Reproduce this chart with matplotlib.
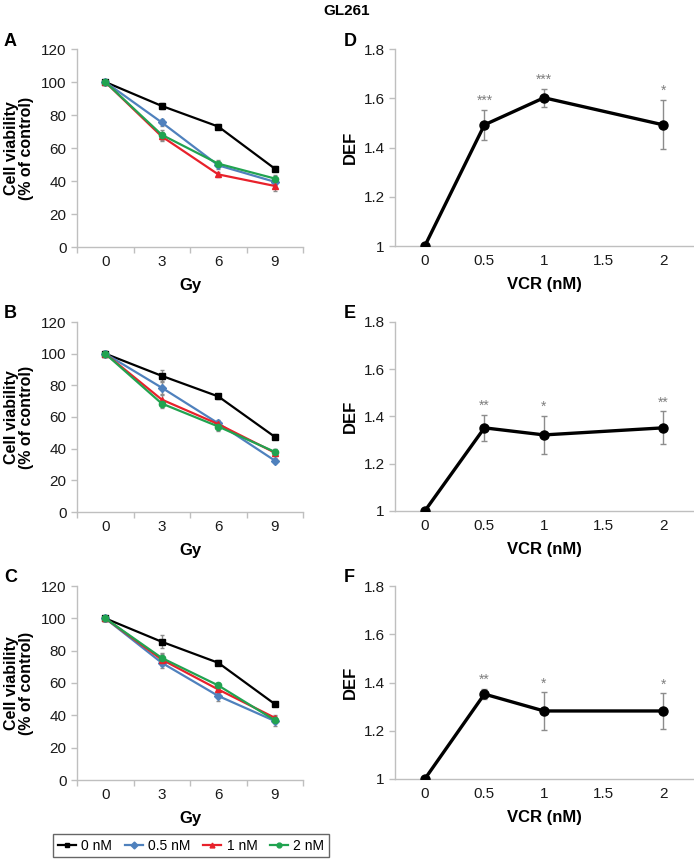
import matplotlib
matplotlib.use("Agg")
import matplotlib.pyplot as plt
from matplotlib.lines import Line2D

plt.rcParams['font.family'] = ['Liberation Sans', 'DejaVu Sans']

doses_gy = [0, 3, 6, 9]
series_names = ["0 nM", "0.5 nM", "1 nM", "2 nM"]
series_colors = ["#000000", "#4f81bd", "#e8212b", "#21a350"]
series_markers = ["s", "D", "^", "o"]

# Panel A
A_vals = [[100, 85.5, 73, 47.5], [100, 75.5, 49.5, 39.5], [100, 67, 44, 37], [100, 68, 50.5, 41.5]]
A_err = [[1.5, 2, 1.5, 1.5], [1.5, 2, 2, 2], [1.5, 3, 1.5, 3], [1.5, 3, 2, 2]]
# Panel B
B_vals = [[100, 86, 73, 47.5], [100, 78.5, 56, 32.5], [100, 71, 55.5, 37.5], [100, 68.5, 54, 38]]
B_err = [[1.5, 4, 1.5, 1.5], [1.5, 4, 2, 1.5], [1.5, 3, 2, 2], [1.5, 2.5, 3, 2]]
# Panel C
C_vals = [[100, 85.5, 72.5, 47], [100, 72.5, 52, 36.5], [100, 74.5, 56, 38.5], [100, 75.5, 58.5, 37]]
C_err = [[1.5, 4, 1.5, 1.5], [1.5, 3, 3, 3], [1.5, 4, 2, 2], [1.5, 2.5, 1.5, 2]]

vcr = [0, 0.5, 1, 2]
D_vals = [1.0, 1.492, 1.602, 1.492]
D_err = [0.0, 0.062, 0.036, 0.1]
D_stars = ["", "***", "***", "*"]
E_vals = [1.0, 1.352, 1.322, 1.352]
E_err = [0.0, 0.056, 0.08, 0.07]
E_stars = ["", "**", "*", "**"]
F_vals = [1.0, 1.352, 1.282, 1.282]
F_err = [0.0, 0.022, 0.077, 0.073]
F_stars = ["", "**", "*", "*"]

W, H = 694, 859
fig = plt.figure(figsize=(W / 100, H / 100), dpi=100)

def ax_px(x0, x1, ytop, ybot):
    return fig.add_axes([x0 / W, 1 - ybot / H, (x1 - x0) / W, (ybot - ytop) / H])

SPINE = "#bfbfbf"
ERRC = "#8c8c8c"

def style(ax):
    for s in ["top", "right"]:
        ax.spines[s].set_visible(False)
    for s in ["left", "bottom"]:
        ax.spines[s].set_color(SPINE)
        ax.spines[s].set_linewidth(1.0)
    ax.tick_params(axis="both", colors=SPINE, labelcolor="#1a1a1a", labelsize=11, length=4, width=1.0)

left_boxes = [(77, 303, 49, 247), (77, 303, 322, 512), (77, 303, 586, 780)]
right_boxes = [(395, 693, 49, 246), (395, 693, 322, 511), (395, 693, 586, 779)]
left_data = [(A_vals, A_err, "A"), (B_vals, B_err, "B"), (C_vals, C_err, "C")]
right_data = [(D_vals, D_err, D_stars, "D"), (E_vals, E_err, E_stars, "E"), (F_vals, F_err, F_stars, "F")]

for box, (vals, errs, letter) in zip(left_boxes, left_data):
    ax = ax_px(*box)
    style(ax)
    for v, e, c, m in zip(vals, errs, series_colors, series_markers):
        ax.errorbar(doses_gy, v, yerr=e, fmt="none", ecolor=ERRC, elinewidth=1.0, capsize=1.5, capthick=1.0, zorder=2)
        ax.plot(doses_gy, v, color=c, marker=m, markersize=4.5, linewidth=1.6, zorder=3)
    ax.set_xlim(-1.5, 10.5)
    ax.set_ylim(0, 120)
    ax.set_xticks(doses_gy)
    ax.set_yticks([0, 20, 40, 60, 80, 100, 120])
    ax.set_xticks([-1.5, 1.5, 4.5, 7.5, 10.5], minor=True)
    ax.tick_params(axis="x", which="major", length=0, pad=6)
    ax.tick_params(axis="x", which="minor", length=4, colors=SPINE, width=1.0)
    ax.set_xlabel("Gy", fontsize=12, fontweight="bold", labelpad=6)
    ax.set_ylabel("Cell viability\n(% of control)", fontsize=11.5, fontweight="bold", labelpad=5, linespacing=1.0)
    fig.text(4 / W, 1 - (box[2] - 8) / H, letter, fontsize=13, fontweight="bold", va="center", ha="left")

for box, (vals, errs, stars, letter) in zip(right_boxes, right_data):
    ax = ax_px(*box)
    style(ax)
    ax.errorbar(vcr, vals, yerr=errs, fmt="none", ecolor=ERRC, elinewidth=1.0, capsize=2, capthick=1.0, zorder=2)
    ax.plot(vcr, vals, color="black", marker="o", markersize=6.5, linewidth=2.4, zorder=3)
    for x, v, e, s in zip(vcr, vals, errs, stars):
        if s:
            ax.text(x, v + e + 0.008, s, ha="center", va="bottom", fontsize=10, color="#7f7f7f")
    ax.set_xlim(-0.25, 2.25)
    ax.set_ylim(1, 1.8)
    ax.set_xticks([0, 0.5, 1, 1.5, 2])
    ax.set_xticklabels(["0", "0.5", "1", "1.5", "2"])
    ax.set_yticks([1, 1.2, 1.4, 1.6, 1.8])
    ax.set_yticklabels(["1", "1.2", "1.4", "1.6", "1.8"])
    ax.tick_params(axis="x", length=0, pad=6)
    ax.set_xlabel("VCR (nM)", fontsize=12, fontweight="bold", labelpad=6)
    ax.set_ylabel("DEF", fontsize=12, fontweight="bold", labelpad=4)
    fig.text(344 / W, 1 - (box[2] - 8) / H, letter, fontsize=13, fontweight="bold", va="center", ha="left")

fig.text(347 / W, 1 - 11 / H, "GL261", fontsize=11, fontweight="bold", ha="center", va="center")

handles = [Line2D([0], [0], color=c, marker=m, markersize=3.5, linewidth=1.6) for c, m in zip(series_colors, series_markers)]
leg = fig.legend(handles, series_names, loc="center", bbox_to_anchor=(191 / W, 1 - 845.5 / H), ncol=4,
                 frameon=True, fancybox=False, fontsize=10, handlelength=1.3, handletextpad=0.4,
                 columnspacing=0.9, borderpad=0.35, edgecolor="#404040")
leg.get_frame().set_linewidth(1.0)

fig.savefig("out.png", dpi=100)
